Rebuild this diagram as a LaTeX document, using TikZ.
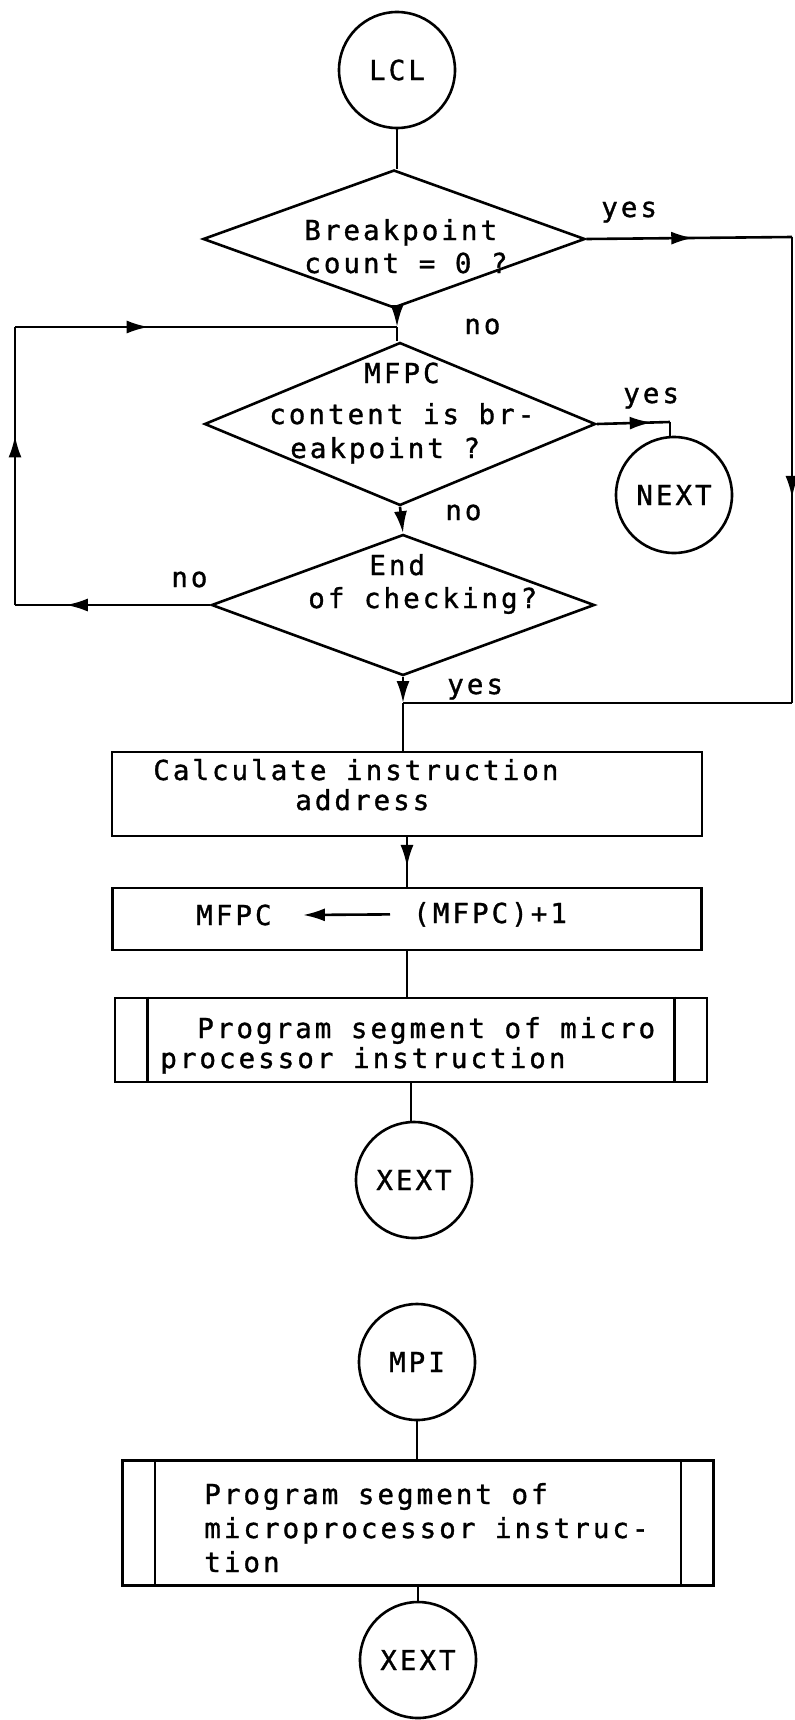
\documentclass[tikz,border=0pt]{standalone}
\usepackage{fontspec}
\newfontfamily\plotfont[LetterSpace=11,FakeBold=1.2]{DejaVu Sans Mono}
\usetikzlibrary{shapes.geometric,arrows.meta,decorations.markings}
\begin{document}
\begin{tikzpicture}[x=1bp,y=-1bp,
  line width=2.6bp,
  every node/.style={font=\plotfont\fontsize{27.5bp}{34bp}\selectfont},
  term/.style={draw, circle, minimum size=116bp, inner sep=0pt},
  decis/.style={draw, diamond, inner sep=0pt},
  procbox/.style={draw, rectangle, inner sep=0pt},
  txt/.style={anchor=base west, inner sep=0pt},
  tip/.style={-{Latex[length=22bp,width=13bp]}},
  midtip/.style={postaction={decorate}, decoration={markings, mark=at position #1 with {\arrow{Latex[length=22bp,width=13bp]}}}}
]
\path[use as bounding box] (0,0) rectangle (795,1720);

% shapes
\node[term] (lcl) at (397,70) {LCL};
\node[decis, minimum width=382bp, minimum height=138bp] (d1) at (394,239) {};
\node[decis, minimum width=391bp, minimum height=163bp] (d2) at (400,424) {};
\node[decis, minimum width=383bp, minimum height=141bp] (d3) at (403,605) {};
\node[term] (next) at (674,495) {NEXT};
\node[procbox, minimum width=590bp, minimum height=84bp] (r1) at (407,794) {};
\node[procbox, minimum width=589bp, minimum height=62bp] (r2) at (407,919) {};
\node[procbox, minimum width=592bp, minimum height=84bp] (p1) at (411,1040) {};
\node[term] (x1) at (414,1180) {XEXT};
\node[term] (mpi) at (417,1362) {MPI};
\node[procbox, minimum width=591bp, minimum height=125bp] (p2) at (418,1523) {};
\node[term] (x2) at (418,1660) {XEXT};

% predefined-process inner lines
\draw ([xshift=34bp]p1.north west) -- ([xshift=34bp]p1.south west);
\draw ([xshift=-34bp]p1.north east) -- ([xshift=-34bp]p1.south east);
\draw ([xshift=34bp]p2.north west) -- ([xshift=34bp]p2.south west);
\draw ([xshift=-34bp]p2.north east) -- ([xshift=-34bp]p2.south east);

% junction coordinates
\coordinate (j1) at (397,327);
\coordinate (cL2) at (15,327);
\coordinate (cL1) at (15,605);
\coordinate (cR1) at (792,237);
\coordinate (cR2) at (792,703);
\coordinate (j2) at (403,703);
\coordinate (cN) at (670,422);

% connectors
\draw (lcl.south) -- (lcl.south |- d1.north);
\draw[tip] (d1.south -| j1) -- (j1);
\draw (j1) -- (j1 |- d2.north);
\draw[midtip=0.35] (cL2) -- (j1);
\draw[midtip=0.61] (cL1) -- (cL2);
\draw[midtip=0.74] (d3.west) -- (cL1);
\draw[midtip=0.52] (d1.east) -- (cR1);
\draw[midtip=0.56] (cR1) -- (cR2);
\draw (cR2) -- (j2);
\draw[midtip=0.75] (d2.east) -- (cN);
\draw (cN) -- (cN |- next.north);
\draw[tip] (d2.south) -- (d3.north);
\draw[tip] (d3.south) -- (j2);
\draw (j2) -- (j2 |- r1.north);
\draw[midtip=0.6] (r1.south) -- (r1.south |- r2.north);
\draw (r2.south) -- (r2.south |- p1.north);
\draw (p1.south) -- (p1.south |- x1.north);
\draw (mpi.south) -- (mpi.south |- p2.north);
\draw (p2.south) -- (p2.south |- x2.north);

% texts
\node[txt] (t1a) at (303,240) {Breakpoint};
\node[txt] (t1b) at (303,273) {count = 0 ?};
\node[txt] (y1) at (600,217) {yes};
\node[txt] (n1) at (463,334) {no};
\node[txt] (t2a) at (363,383) {MFPC};
\node[txt] (t2b) at (268,424) {content is br-};
\node[txt] (t2c) at (289,458) {eakpoint ?};
\node[txt] (y2) at (622,403) {yes};
\node[txt] (n2) at (444,520) {no};
\node[txt] (t3a) at (368,575) {End};
\node[txt] (t3b) at (307,608) {of checking?};
\node[txt] (n3) at (170,587) {no};
\node[txt] (y3) at (446,694) {yes};
\node[txt] (t4a) at (152,780) {Calculate instruction};
\node[txt] (t4b) at (294,810) {address};
\node[txt] (mf) at (195,925) {MFPC};
\node[txt] (mf1) at (412,923) {(MFPC)+1};
\draw[tip] ([xshift=-22bp]mf1.west) -- ([xshift=30bp]mf.east);
\node[txt] (t5a) at (196,1038) {Program segment of micro};
\node[txt] (t5b) at (159,1068) {processor instruction};
\node[txt] (t6a) at (203,1504) {Program segment of};
\node[txt] (t6b) at (203,1538) {microprocessor instruc-};
\node[txt] (t6c) at (203,1572) {tion};
\end{tikzpicture}
\end{document}
